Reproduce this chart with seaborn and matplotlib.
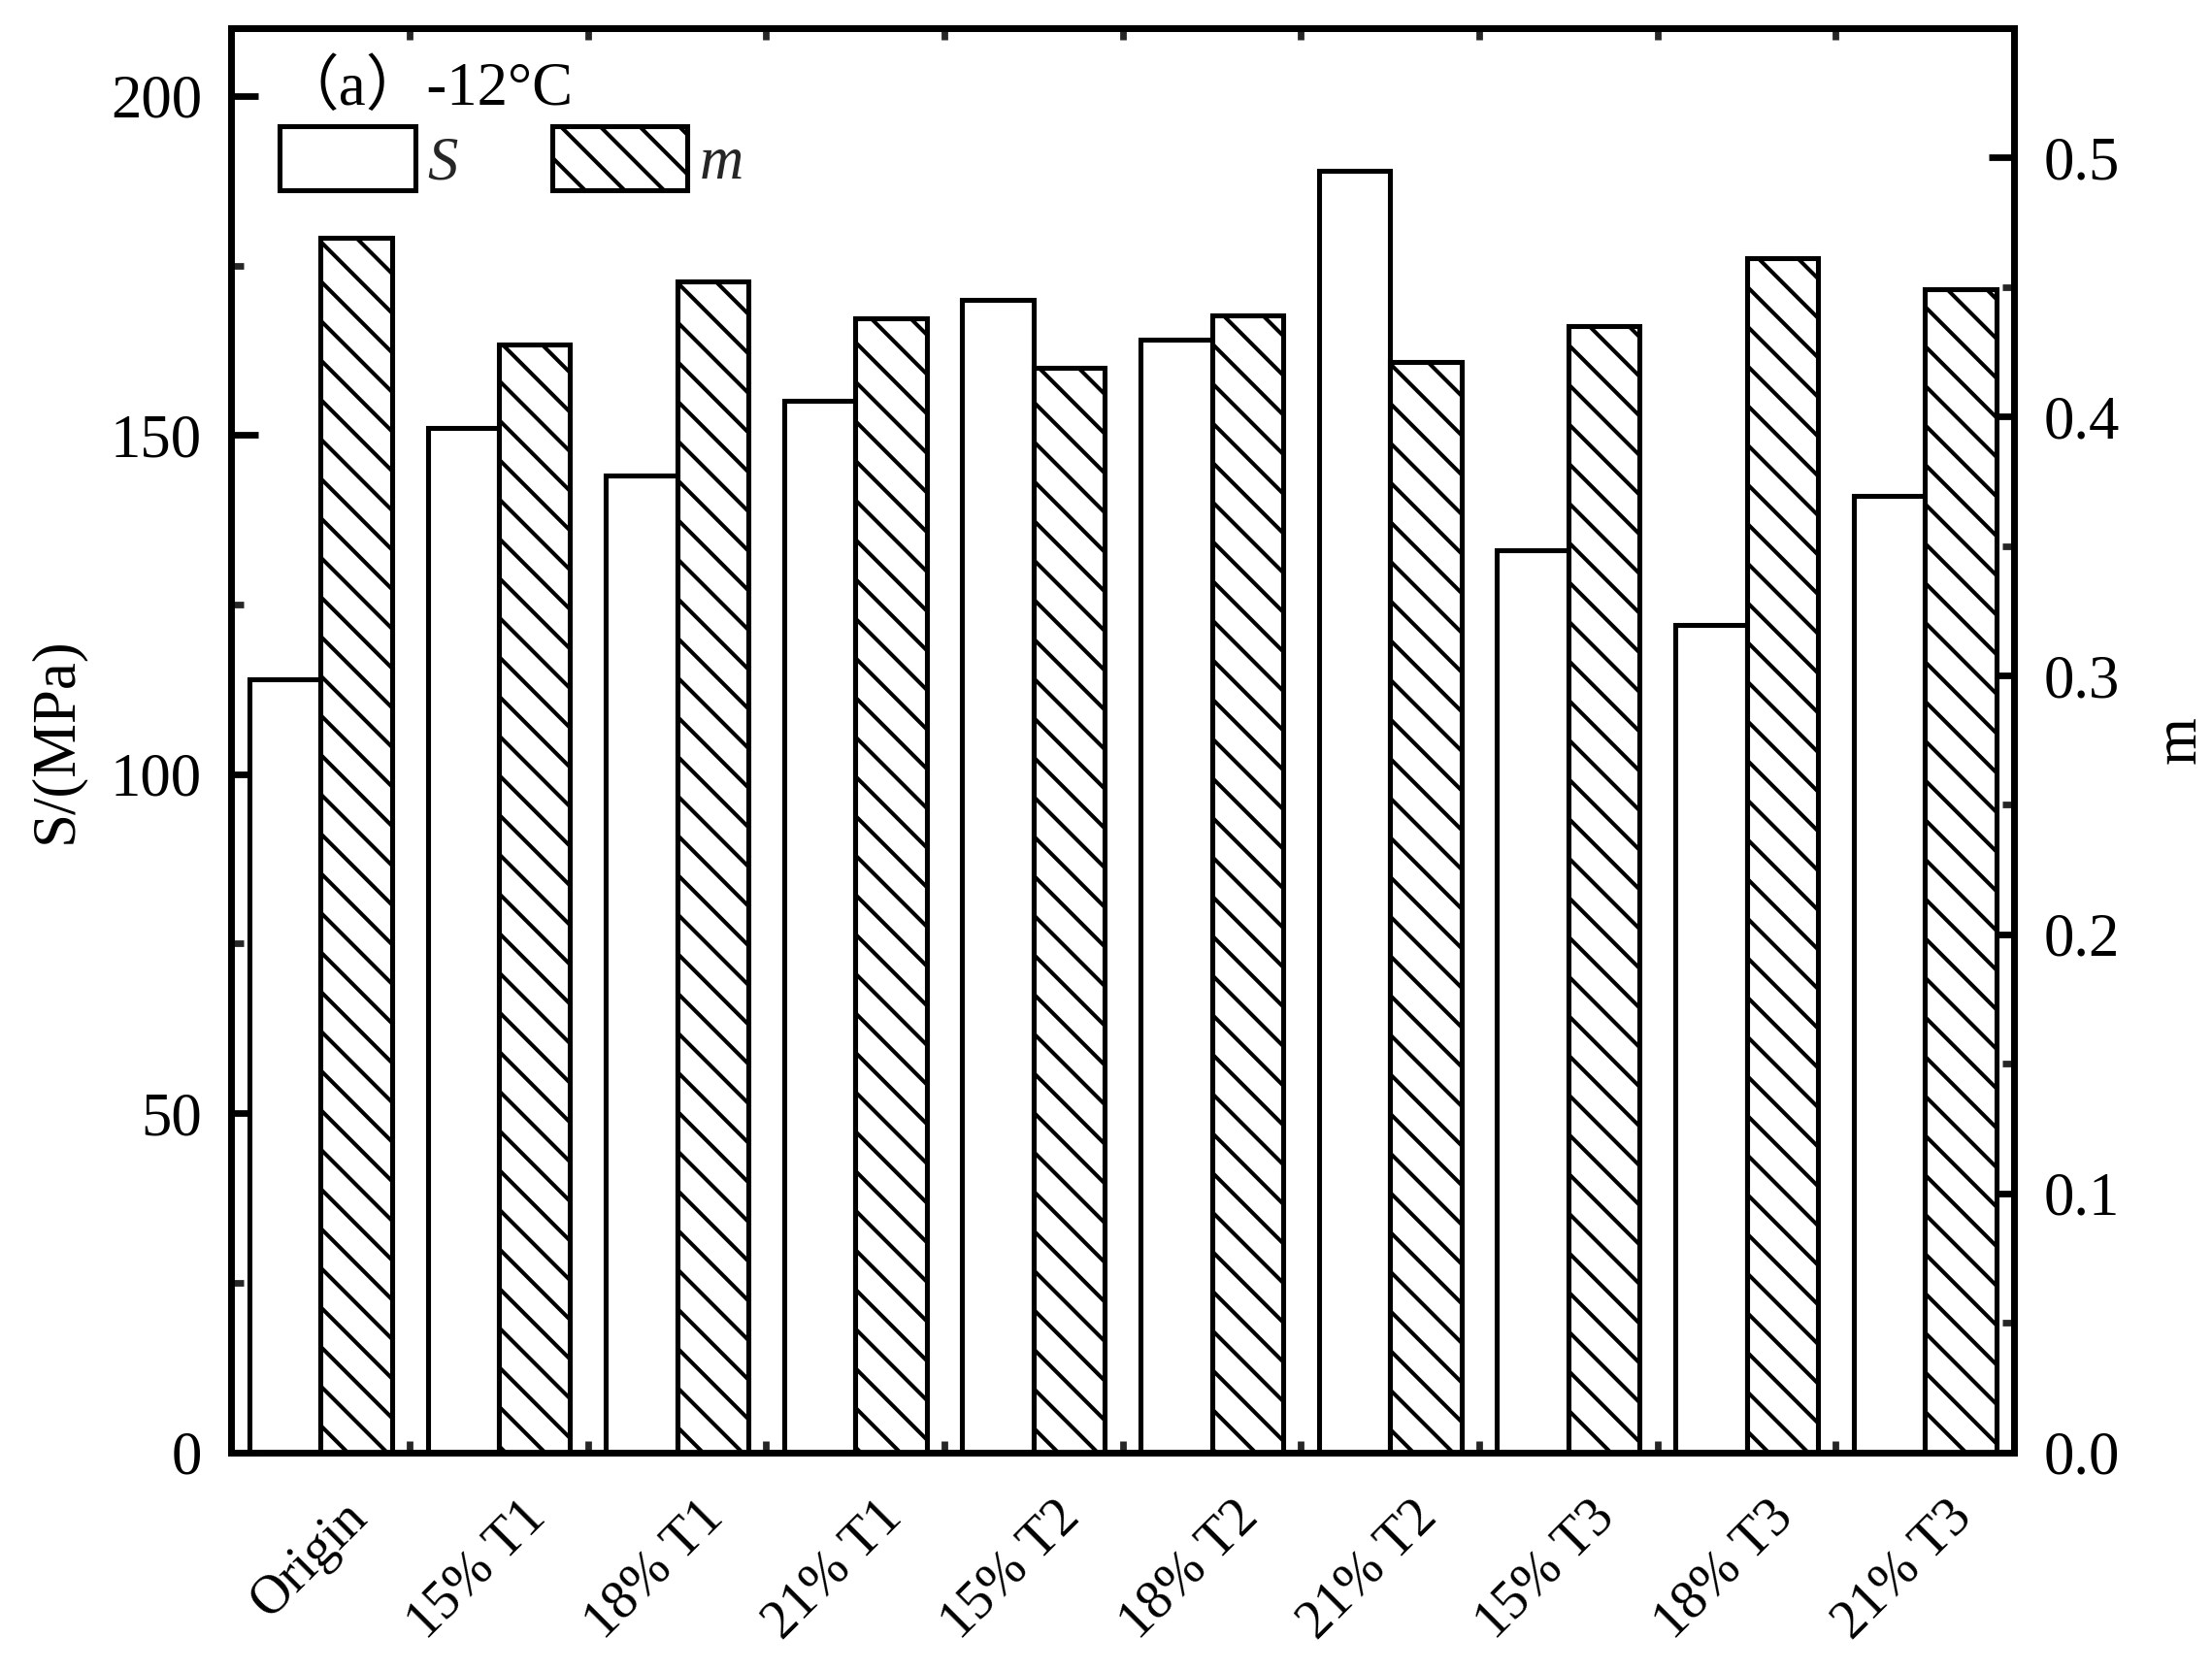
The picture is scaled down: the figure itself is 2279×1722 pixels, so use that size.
import numpy as np
import pandas as pd
import matplotlib
matplotlib.use("Agg")
import matplotlib.pyplot as plt
import matplotlib.transforms as mtransforms
from matplotlib.patches import Patch
from matplotlib.ticker import MultipleLocator, FormatStrFormatter
import seaborn as sns

# ---------------- data ----------------
categories = ["Origin", "15% T1", "18% T1", "21% T1", "15% T2",
              "18% T2", "21% T2", "15% T3", "18% T3", "21% T3"]
S_values = [114, 151, 144, 155, 170, 164, 189, 133, 122, 141]
m_values = [0.469, 0.428, 0.452, 0.438, 0.419, 0.439, 0.421, 0.435, 0.461, 0.449]
series_names = ["S", "m"]
panel_title = "（a）-12°C"
left_label = "S/(MPa)"
right_label = "m"

# ---------------- style ----------------
sns.set_theme(style="ticks")
plt.rcParams["font.family"] = ["Liberation Serif", "Noto Sans CJK SC"]
plt.rcParams["hatch.linewidth"] = 1.2
plt.rcParams["axes.linewidth"] = 2.0
plt.rcParams["axes.edgecolor"] = "black"

FS = 18.5
XFS = 16.5
EDGE = 1.5
HATCH = "\\\\"
DPI = 244
fig = plt.figure(figsize=(2279 / DPI, 1722 / DPI), dpi=DPI)
ax1 = fig.add_axes([0.10465, 0.13095, 0.80584, 0.85221])

n = len(categories)
df_left = pd.DataFrame({
    "Sample": categories * 2,
    "series": ["S"] * n + ["m"] * n,
    "value": list(S_values) + [np.nan] * n,
})
df_right = pd.DataFrame({
    "Sample": categories * 2,
    "series": ["S"] * n + ["m"] * n,
    "value": [np.nan] * n + list(m_values),
})
pal = {"S": "white", "m": "white"}

sns.barplot(data=df_left, x="Sample", y="value", hue="series",
            order=categories, hue_order=series_names, palette=pal,
            saturation=1, edgecolor="black", linewidth=EDGE, width=0.8,
            errorbar=None, legend=False, ax=ax1)

ax2 = ax1.twinx()
sns.barplot(data=df_right, x="Sample", y="value", hue="series",
            order=categories, hue_order=series_names, palette=pal,
            saturation=1, edgecolor="black", linewidth=EDGE, width=0.8,
            errorbar=None, legend=False, hatch=HATCH, ax=ax2)

# ---------------- axes ----------------
ax1.set_xlim(-0.5, n - 0.5)
ax1.set_ylim(0, 210)
ax2.set_ylim(0, 0.55)

ax1.set_xlabel("")
ax2.set_xlabel("")
ax1.set_ylabel(left_label, fontsize=FS, labelpad=8, color="black")
ax2.set_ylabel(right_label, fontsize=FS, labelpad=10, color="black")

for sp in list(ax1.spines.values()) + list(ax2.spines.values()):
    sp.set_visible(True)
    sp.set_linewidth(2.0)
    sp.set_color("black")

ax1.yaxis.set_major_locator(MultipleLocator(50))
ax1.yaxis.set_minor_locator(MultipleLocator(25))
ax2.yaxis.set_major_locator(MultipleLocator(0.1))
ax2.yaxis.set_minor_locator(MultipleLocator(0.05))
ax2.yaxis.set_major_formatter(FormatStrFormatter("%.1f"))

ax1.tick_params(axis="y", which="major", direction="in", length=8.3, width=2,
                labelsize=FS, pad=9, left=True, right=False, colors="black")
ax1.tick_params(axis="y", which="minor", direction="in", length=3.8, width=2,
                left=True, right=False)
ax2.tick_params(axis="y", which="major", direction="in", length=7.7, width=2,
                labelsize=FS, pad=9, left=False, right=True, colors="black")
ax2.tick_params(axis="y", which="minor", direction="in", length=3.5, width=2,
                left=False, right=True)

ax1.set_xticks(np.arange(n))
ax1.set_xticks(np.arange(0.5, n - 1, 1.0), minor=True)
ax1.tick_params(axis="x", which="major", length=0, pad=12, labelsize=XFS,
                colors="black")
ax1.tick_params(axis="x", which="minor", direction="in", length=3.5, width=2,
                top=True, bottom=True)
ax1.set_xticklabels(categories, rotation=45, ha="right", va="top")

offset = mtransforms.ScaledTranslation(58 / DPI, 0, fig.dpi_scale_trans)
for tk in ax1.xaxis.get_major_ticks():
    tk.label1.set_transform(tk.label1.get_transform() + offset)

# ---------------- annotations ----------------
ax2.text(0.026, 0.946, panel_title, transform=ax2.transAxes, fontsize=FS,
         ha="left", va="baseline", color="black")

handles = [Patch(facecolor="white", edgecolor="black", linewidth=EDGE),
           Patch(facecolor="white", edgecolor="black", linewidth=EDGE, hatch=HATCH)]
ax2.legend(handles, series_names, loc="upper left",
           bbox_to_anchor=(0.0272, 0.931), ncol=2, frameon=False,
           prop={"family": "Liberation Serif", "style": "italic", "size": FS},
           handlelength=2.22, handleheight=1.24, handletextpad=0.2,
           columnspacing=1.55, borderpad=0, borderaxespad=0)

fig.savefig("out.png", dpi=DPI)
